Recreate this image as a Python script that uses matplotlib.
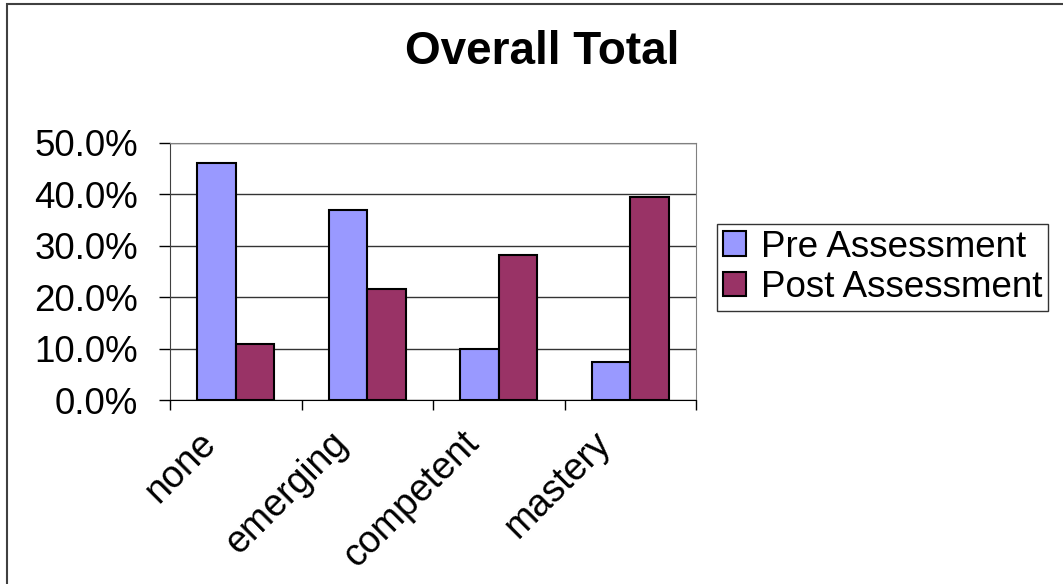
import numpy as np
import matplotlib.pyplot as plt
import matplotlib.transforms as mtransforms
from matplotlib.patches import Rectangle
from matplotlib.ticker import PercentFormatter, FixedLocator

categories = ["none", "emerging", "competent", "mastery"]
pre_values = [46.2, 37.0, 9.9, 7.4]
post_values = [10.8, 21.5, 28.2, 39.5]
series_names = ["Pre Assessment", "Post Assessment"]

plt.rcParams['font.family'] = ['Liberation Sans', 'DejaVu Sans']

fig = plt.figure(figsize=(10.63, 5.84), dpi=100)
ax = fig.add_axes([170 / 1063, 1 - 400 / 584, 526 / 1063, 257 / 584])

x = np.arange(len(categories))
w = 0.293
ax.bar(x - w / 2, pre_values, w, color='#9999FF', edgecolor='black', linewidth=1.5,
       label=series_names[0], zorder=3)
ax.bar(x + w / 2, post_values, w, color='#993366', edgecolor='black', linewidth=1.5,
       label=series_names[1], zorder=3)

ax.set_xlim(-0.5, len(categories) - 0.5)
ax.set_ylim(0, 50)
ax.set_yticks(np.arange(0, 51, 10))
ax.yaxis.set_major_formatter(PercentFormatter(decimals=1))
ax.yaxis.grid(True, color='#333333', linewidth=1, zorder=0)

ax.spines['top'].set_color('#808080')
ax.spines['right'].set_color('#808080')
ax.spines['left'].set_color('#404040')
ax.spines['bottom'].set_color('black')

ax.tick_params(axis='y', direction='out', length=8, width=1, labelsize=26.5, pad=15)
ax.set_xticks(x)
ax.set_xticklabels(categories, rotation=45, ha='right', va='top', rotation_mode='anchor')
ax.tick_params(axis='x', which='major', length=0, labelsize=27, pad=18)
ax.xaxis.set_minor_locator(FixedLocator(np.arange(-0.5, len(categories), 1)))
ax.tick_params(axis='x', which='minor', direction='out', length=7, width=1)

offset = mtransforms.ScaledTranslation(-0.38, 0, fig.dpi_scale_trans)
for lab in ax.get_xticklabels():
    lab.set_transform(lab.get_transform() + offset)

fig.text(542 / 1063, 1 - 52 / 584, "Overall Total", ha='center', va='center',
         fontsize=33, fontweight='bold')

leg = fig.legend(loc='upper left', bbox_to_anchor=(717 / 1063, 1 - 224 / 584),
                 fontsize=26.5, frameon=True, fancybox=False, edgecolor='black',
                 borderpad=0.15, labelspacing=0.15, handlelength=0.65, handleheight=0.65,
                 handletextpad=0.4, borderaxespad=0)
leg.get_frame().set_linewidth(1)

fig.patches.append(Rectangle((7 / 1063, -0.1), 1.2, 1 - 4 / 584 + 0.1, fill=False,
                             edgecolor='#404040', linewidth=1.5,
                             transform=fig.transFigure))

fig.savefig("out.png", dpi=100)
